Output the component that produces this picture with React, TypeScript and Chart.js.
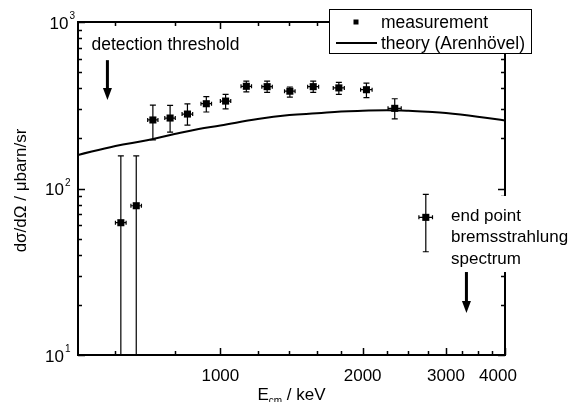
import React, { useEffect, useRef } from "react";
import Chart from "chart.js/auto";

// ---- data ----
const measEnergy = [616, 664, 720, 783, 852, 934, 1026, 1135, 1256, 1403, 1572, 1781, 2037, 2338, 2720];
const measCross = [62.3, 78.8, 258, 265, 280, 323, 335, 411, 409, 384, 409, 402, 392, 303, 67.1];
const measLow = [0, 0, 196, 218, 240, 288, 301, 380, 378, 354, 378, 368, 351, 262, 41.7];
const measHigh = [157, 157, 317, 316, 322, 356, 368, 442, 442, 407, 442, 434, 430, 346, 92.3];
const measEnergyErr = [16, 17, 18, 20, 22, 24, 26, 29, 32, 36, 42, 48, 57, 75, 90];

const theoryEnergy = [500, 600, 700, 800, 900, 1000, 1200, 1400, 1600, 1800, 2000, 2250, 2500, 2750, 3000, 3500, 4000];
const theoryCross = [159, 180, 195, 212.5, 228, 239, 261.5, 276, 283, 290, 293, 295, 293, 289, 284, 270, 256];

const xMajorTicks = [1000, 2000, 3000, 4000];
const xTickLabels = ["1000", "2000", "3000", "4000"];
const xMinorTicks = [600, 800, 1200, 1400, 1600, 1800, 2250, 2500, 2750, 3250, 3500, 3750];
const yMajorTicks = [10, 100, 1000];
const yTickExponents = ["1", "2", "3"];
const yMinorTicks = [20, 30, 40, 50, 60, 70, 80, 90, 200, 300, 400, 500, 600, 700, 800, 900];

const thresholdEnergy = 577;
const thresholdArrowY = [590, 340];
const endpointEnergy = 3315;
const endpointArrowY = [31.5, 17.9];

const FONT = '"Liberation Sans", Arial, Helvetica, sans-serif';

const decorPlugin = {
  id: "decor",
  beforeDatasetsDraw(chart: any) {
    const { ctx, chartArea: a } = chart;
    const xs = chart.scales.x;
    const ys = chart.scales.y;
    ctx.save();
    ctx.beginPath();
    ctx.rect(a.left, a.top, a.right - a.left, a.bottom - a.top);
    ctx.clip();
    ctx.strokeStyle = "#000";
    ctx.lineWidth = 1.2;
    for (let i = 0; i < measEnergy.length; i++) {
      const px = xs.getPixelForValue(measEnergy[i]);
      const py = ys.getPixelForValue(measCross[i]);
      const pyLow = measLow[i] > ys.min ? ys.getPixelForValue(measLow[i]) : a.bottom + 4;
      const pyHigh = ys.getPixelForValue(measHigh[i]);
      const pxL = xs.getPixelForValue(measEnergy[i] - measEnergyErr[i]);
      const pxR = xs.getPixelForValue(measEnergy[i] + measEnergyErr[i]);
      ctx.beginPath();
      ctx.moveTo(px, pyLow);
      ctx.lineTo(px, pyHigh);
      ctx.moveTo(px - 3, pyHigh);
      ctx.lineTo(px + 3, pyHigh);
      ctx.moveTo(px - 3, pyLow);
      ctx.lineTo(px + 3, pyLow);
      ctx.moveTo(pxL, py);
      ctx.lineTo(pxR, py);
      ctx.moveTo(pxL, py - 2);
      ctx.lineTo(pxL, py + 2);
      ctx.moveTo(pxR, py - 2);
      ctx.lineTo(pxR, py + 2);
      ctx.stroke();
    }
    ctx.restore();
  },
  afterDraw(chart: any) {
    const { ctx, chartArea: a } = chart;
    const xs = chart.scales.x;
    const ys = chart.scales.y;
    ctx.save();
    ctx.strokeStyle = "#000";
    ctx.fillStyle = "#000";

    // ticks (inward) on all four sides
    ctx.lineWidth = 1.5;
    ctx.beginPath();
    const xt = (v: number, len: number) => {
      const p = Math.round(xs.getPixelForValue(v)) + 0.5;
      ctx.moveTo(p, a.bottom);
      ctx.lineTo(p, a.bottom - len);
      ctx.moveTo(p, a.top);
      ctx.lineTo(p, a.top + len);
    };
    const yt = (v: number, len: number) => {
      const p = Math.round(ys.getPixelForValue(v)) + 0.5;
      ctx.moveTo(a.left, p);
      ctx.lineTo(a.left + len, p);
      ctx.moveTo(a.right, p);
      ctx.lineTo(a.right - len, p);
    };
    xMajorTicks.forEach((v) => xt(v, 7));
    xMinorTicks.forEach((v) => xt(v, 4));
    yMajorTicks.forEach((v) => yt(v, 7));
    yMinorTicks.forEach((v) => yt(v, 4));
    ctx.stroke();

    // frame
    ctx.lineWidth = 2;
    ctx.strokeRect(a.left, a.top, a.right - a.left, a.bottom - a.top);

    // x tick labels
    ctx.font = `17px ${FONT}`;
    ctx.textAlign = "center";
    ctx.textBaseline = "alphabetic";
    xMajorTicks.forEach((v, i) => {
      let p = xs.getPixelForValue(v);
      if (i === xMajorTicks.length - 1) p -= 7;
      ctx.fillText(xTickLabels[i], p, a.bottom + 26);
    });

    // y tick labels with superscripts
    yMajorTicks.forEach((v, i) => {
      const p = ys.getPixelForValue(v);
      const right = i === yMajorTicks.length - 1 ? 68.5 : 64;
      ctx.font = `17px ${FONT}`;
      ctx.textAlign = "right";
      ctx.fillText("10", right, p + 6.5);
      ctx.font = `10px ${FONT}`;
      ctx.textAlign = "left";
      ctx.fillText(yTickExponents[i], right + 1, p - 3);
    });

    // x axis title with subscript
    const cx = (a.left + a.right) / 2;
    const parts = [
      { t: "E", f: `17px ${FONT}`, dy: 0 },
      { t: "cm", f: `10px ${FONT}`, dy: 4 },
      { t: " / keV", f: `17px ${FONT}`, dy: 0 },
    ];
    let total = 0;
    parts.forEach((pt) => {
      ctx.font = pt.f;
      total += ctx.measureText(pt.t).width;
    });
    let x0 = cx - total / 2;
    ctx.textAlign = "left";
    parts.forEach((pt) => {
      ctx.font = pt.f;
      ctx.fillText(pt.t, x0, 400 + pt.dy);
      x0 += ctx.measureText(pt.t).width;
    });

    // y axis title
    ctx.save();
    ctx.translate(26, (a.top + a.bottom) / 2 + 2);
    ctx.rotate(-Math.PI / 2);
    ctx.font = `17px ${FONT}`;
    ctx.textAlign = "center";
    ctx.fillText("dσ/dΩ / μbarn/sr", 0, 0);
    ctx.restore();

    // annotations
    ctx.font = `17.5px ${FONT}`;
    ctx.textAlign = "left";
    ctx.fillText("detection threshold", 91.5, 50);
    ctx.fillStyle = "#fff";
    ctx.fillRect(447, 196, 128, 76);
    ctx.fillStyle = "#000";
    ctx.font = `17px ${FONT}`;
    ctx.fillText("end point", 451, 220.5);
    ctx.fillText("bremsstrahlung", 451, 242);
    ctx.fillText("spectrum", 451, 263.5);

    const arrow = (e: number, yFrom: number, yTo: number) => {
      const px = xs.getPixelForValue(e);
      const p1 = ys.getPixelForValue(yFrom);
      const p2 = ys.getPixelForValue(yTo);
      ctx.lineWidth = 3;
      ctx.beginPath();
      ctx.moveTo(px, p1);
      ctx.lineTo(px, p2 - 10);
      ctx.stroke();
      ctx.beginPath();
      ctx.moveTo(px - 4.5, p2 - 12);
      ctx.lineTo(px + 4.5, p2 - 12);
      ctx.lineTo(px, p2);
      ctx.closePath();
      ctx.fill();
    };
    arrow(thresholdEnergy, thresholdArrowY[0], thresholdArrowY[1]);
    arrow(endpointEnergy, endpointArrowY[0], endpointArrowY[1]);

    // legend
    ctx.fillStyle = "#fff";
    ctx.fillRect(329.5, 9.5, 202, 44);
    ctx.strokeStyle = "#000";
    ctx.lineWidth = 1;
    ctx.strokeRect(329.5, 9.5, 202, 44);
    ctx.fillStyle = "#000";
    ctx.fillRect(353.5, 19.5, 5, 5);
    ctx.lineWidth = 2;
    ctx.beginPath();
    ctx.moveTo(336, 43);
    ctx.lineTo(377, 43);
    ctx.stroke();
    ctx.font = `17.5px ${FONT}`;
    ctx.textAlign = "left";
    ctx.fillText("measurement", 381, 27.5);
    ctx.fillText("theory (Arenhövel)", 381, 48.5);
    ctx.restore();
  },
};

export default function App() {
  const ref = useRef<HTMLCanvasElement | null>(null);
  useEffect(() => {
    if (!ref.current) return;
    const chart = new Chart(ref.current, {
      type: "scatter",
      data: {
        datasets: [
          {
            type: "line",
            label: "theory (Arenhövel)",
            data: theoryEnergy.map((x, i) => ({ x, y: theoryCross[i] })),
            borderColor: "#000",
            borderWidth: 2,
            pointRadius: 0,
            tension: 0.4,
            fill: false,
          } as any,
          {
            type: "scatter",
            label: "measurement",
            data: measEnergy.map((x, i) => ({ x, y: measCross[i] })),
            pointStyle: "rect",
            pointRadius: 5,
            backgroundColor: "#000",
            borderColor: "#000",
            borderWidth: 0,
          },
        ],
      },
      options: {
        responsive: false,
        maintainAspectRatio: false,
        animation: false,
        layout: { padding: { left: 78, right: 74, top: 22, bottom: 47 } },
        scales: {
          x: { type: "logarithmic", min: 500, max: 4000, display: false },
          y: { type: "logarithmic", min: 10, max: 1000, display: false },
        },
        plugins: { legend: { display: false }, tooltip: { enabled: false } },
      },
      plugins: [decorPlugin],
    });
    return () => chart.destroy();
  }, []);
  return (
    <div style={{ position: "absolute", left: 0, top: 0, width: 579, height: 402, background: "#fff" }}>
      <canvas ref={ref} width={579} height={402} style={{ display: "block" }} />
    </div>
  );
}
